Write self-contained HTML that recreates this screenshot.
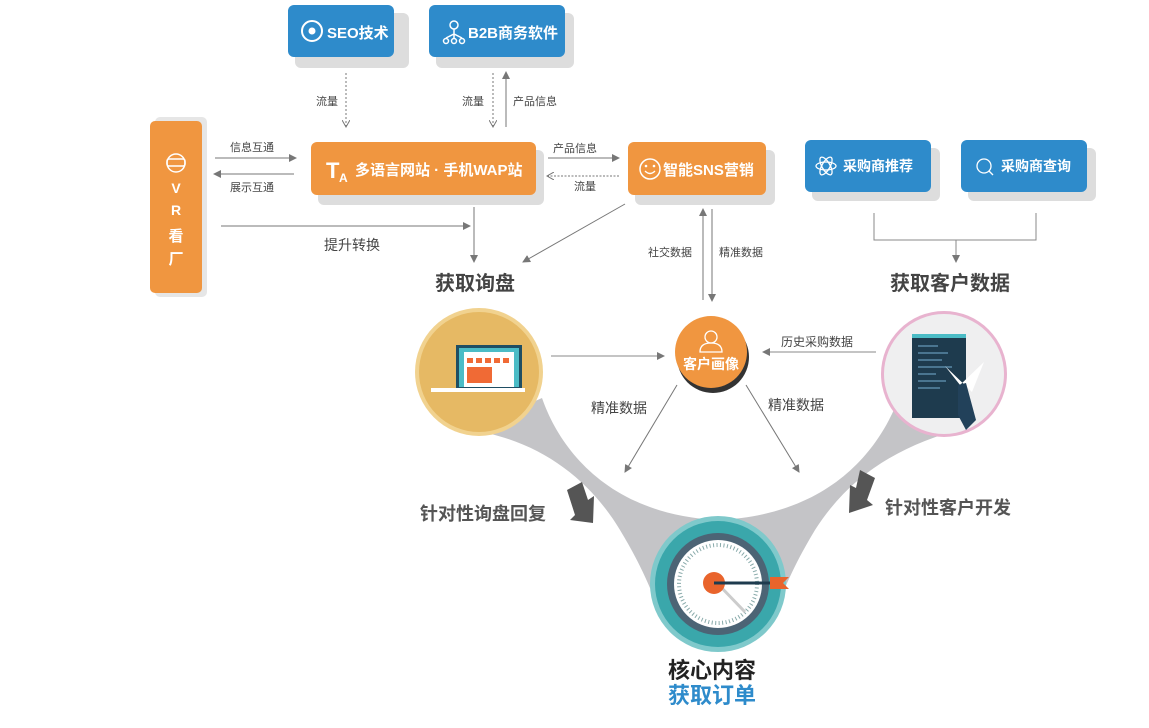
<!DOCTYPE html>
<html><head><meta charset="utf-8"><style>
body{margin:0;background:#fff;}
svg text{font-family:"Liberation Sans","Noto Sans CJK SC",sans-serif;}
</style></head><body>
<svg width="1149" height="723" viewBox="0 0 1149 723" xmlns="http://www.w3.org/2000/svg">
<defs>
<marker id="a" markerWidth="8" markerHeight="8" refX="7" refY="4" orient="auto" markerUnits="userSpaceOnUse"><path d="M0,0 L8,4 L0,8 z" fill="#777"/></marker>
<marker id="v" markerWidth="8" markerHeight="8" refX="7" refY="4" orient="auto" markerUnits="userSpaceOnUse"><path d="M0,0 L7,4 L0,8" fill="none" stroke="#777"/></marker>
</defs>
<!-- funnel -->
<path d="M470,430 C540,440 590,480 620,530 C635,555 645,575 655,600 L780,600 C790,575 800,555 815,530 C850,475 900,445 965,428 L900,395 C880,450 830,515 718,520 C610,515 560,450 542,398 Z" fill="#c4c4c7"/>

<!-- top blue boxes -->
<rect x="295" y="13" width="114" height="55" rx="6" fill="#ddd"/>
<rect x="288" y="5" width="106" height="52" rx="6" fill="#2e8bcb"/>
<circle cx="312" cy="31" r="10" fill="none" stroke="#fff" stroke-width="2"/><circle cx="312" cy="31" r="3.5" fill="#fff"/>
<text x="327" y="38" font-size="15" font-weight="bold" fill="#fff">SEO技术</text>
<rect x="436" y="13" width="138" height="55" rx="6" fill="#ddd"/>
<rect x="429" y="5" width="136" height="52" rx="6" fill="#2e8bcb"/>
<g stroke="#fff" stroke-width="1.5" fill="none"><circle cx="454" cy="25" r="4"/><path d="M454,29 V34 M446,38 L454,34 L462,38 M454,34 V38"/><circle cx="446" cy="41" r="2.5"/><circle cx="454" cy="41" r="2.5"/><circle cx="462" cy="41" r="2.5"/></g>
<text x="468" y="38" font-size="15" font-weight="bold" fill="#fff">B2B商务软件</text>

<!-- top arrows -->
<line x1="346" y1="73" x2="346" y2="127" stroke="#777" stroke-dasharray="2,2" marker-end="url(#v)"/>
<text x="316" y="105" font-size="11" fill="#444">流量</text>
<line x1="493" y1="73" x2="493" y2="127" stroke="#777" stroke-dasharray="2,2" marker-end="url(#v)"/>
<text x="462" y="105" font-size="11" fill="#444">流量</text>
<line x1="506" y1="127" x2="506" y2="72" stroke="#777" marker-end="url(#a)"/>
<text x="513" y="105" font-size="11" fill="#444">产品信息</text>

<!-- VR -->
<rect x="155" y="117" width="52" height="180" rx="5" fill="#e6e6e6"/>
<rect x="150" y="121" width="52" height="172" rx="5" fill="#f09640"/>
<g stroke="#fff" stroke-width="1.5" fill="none"><circle cx="176" cy="163" r="9"/><rect x="167" y="159" width="18" height="7" rx="2"/></g>
<text x="176" y="193" font-size="14" font-weight="bold" fill="#fff" text-anchor="middle">V</text>
<text x="176" y="215" font-size="14" font-weight="bold" fill="#fff" text-anchor="middle">R</text>
<text x="176" y="241" font-size="15" font-weight="bold" fill="#fff" text-anchor="middle">看</text>
<text x="176" y="264" font-size="15" font-weight="bold" fill="#fff" text-anchor="middle">厂</text>

<line x1="215" y1="158" x2="296" y2="158" stroke="#777" marker-end="url(#a)"/>
<text x="230" y="151" font-size="11" fill="#444">信息互通</text>
<line x1="294" y1="174" x2="214" y2="174" stroke="#777" marker-end="url(#a)"/>
<text x="230" y="191" font-size="11" fill="#444">展示互通</text>
<line x1="221" y1="226" x2="470" y2="226" stroke="#777" marker-end="url(#a)"/>
<text x="324" y="250" font-size="14" fill="#444">提升转换</text>

<!-- website -->
<rect x="318" y="150" width="226" height="55" rx="6" fill="#ddd"/>
<rect x="311" y="142" width="225" height="53" rx="6" fill="#f09640"/>
<text x="326" y="178" font-size="22" font-weight="bold" fill="#fff">T</text>
<text x="339" y="182" font-size="12" font-weight="bold" fill="#fff">A</text>
<text x="355" y="175" font-size="15" font-weight="bold" fill="#fff">多语言网站 · 手机WAP站</text>

<line x1="548" y1="158" x2="619" y2="158" stroke="#777" marker-end="url(#a)"/>
<text x="553" y="152" font-size="11" fill="#444">产品信息</text>
<line x1="619" y1="176" x2="547" y2="176" stroke="#777" stroke-dasharray="2,1.5" marker-end="url(#v)"/>
<text x="574" y="190" font-size="11" fill="#444">流量</text>

<!-- SNS -->
<rect x="635" y="150" width="140" height="55" rx="6" fill="#ddd"/>
<rect x="628" y="142" width="138" height="53" rx="6" fill="#f09640"/>
<circle cx="650" cy="169" r="10" fill="none" stroke="#fff" stroke-width="1.5"/>
<circle cx="646" cy="166" r="1.3" fill="#fff"/><circle cx="654" cy="166" r="1.3" fill="#fff"/>
<path d="M645,171 Q650,176 655,171" stroke="#fff" fill="none" stroke-width="1.3"/>
<text x="663" y="175" font-size="15" font-weight="bold" fill="#fff">智能SNS营销</text>

<!-- right blue -->
<rect x="812" y="148" width="128" height="53" rx="6" fill="#ddd"/>
<rect x="805" y="140" width="126" height="52" rx="6" fill="#2e8bcb"/>
<g stroke="#fff" stroke-width="1.3" fill="none"><ellipse cx="826" cy="166" rx="10" ry="4"/><ellipse cx="826" cy="166" rx="10" ry="4" transform="rotate(60 826 166)"/><ellipse cx="826" cy="166" rx="10" ry="4" transform="rotate(-60 826 166)"/></g>
<text x="843" y="171" font-size="14" font-weight="bold" fill="#fff">采购商推荐</text>
<rect x="968" y="148" width="128" height="53" rx="6" fill="#ddd"/>
<rect x="961" y="140" width="126" height="52" rx="6" fill="#2e8bcb"/>
<circle cx="984" cy="166" r="7" fill="none" stroke="#fff" stroke-width="1.3"/><line x1="989" y1="171" x2="993" y2="175" stroke="#fff" stroke-width="1.3"/>
<text x="1001" y="171" font-size="14" font-weight="bold" fill="#fff">采购商查询</text>
<path d="M874,213 V240 H1036 V213" fill="none" stroke="#888"/>
<line x1="956" y1="240" x2="956" y2="262" stroke="#888" marker-end="url(#a)"/>
<text x="950" y="290" font-size="20" font-weight="bold" fill="#444" text-anchor="middle">获取客户数据</text>

<!-- to 获取询盘 -->
<line x1="474" y1="207" x2="474" y2="262" stroke="#777" marker-end="url(#a)"/>
<line x1="625" y1="204" x2="523" y2="262" stroke="#777" marker-end="url(#a)"/>
<text x="475" y="290" font-size="20" font-weight="bold" fill="#444" text-anchor="middle">获取询盘</text>

<line x1="703" y1="300" x2="703" y2="209" stroke="#777" marker-end="url(#a)"/>
<line x1="712" y1="209" x2="712" y2="301" stroke="#777" marker-end="url(#a)"/>
<text x="648" y="256" font-size="11" fill="#444">社交数据</text>
<text x="719" y="256" font-size="11" fill="#444">精准数据</text>

<!-- left circle -->
<circle cx="479" cy="372" r="64" fill="#f1d28f"/>
<circle cx="479" cy="372" r="60" fill="#e6b964"/>
<rect x="456" y="345" width="66" height="45" fill="#1f4e63"/>
<rect x="459" y="348" width="60" height="39" fill="#4bbcc6"/>
<rect x="464" y="352" width="50" height="35" fill="#fff"/>
<g fill="#f06a35"><rect x="467" y="358" width="6" height="5"/><rect x="476" y="358" width="6" height="5"/><rect x="485" y="358" width="6" height="5"/><rect x="494" y="358" width="6" height="5"/><rect x="503" y="358" width="6" height="5"/><rect x="467" y="367" width="25" height="16"/></g>
<rect x="431" y="388" width="94" height="4" fill="#fff"/>
<line x1="551" y1="356" x2="664" y2="356" stroke="#888" marker-end="url(#a)"/>

<!-- center orange -->
<circle cx="713" cy="357" r="36" fill="#333"/>
<circle cx="711" cy="352" r="36" fill="#f09640"/>
<circle cx="711" cy="337" r="6" fill="none" stroke="#fff" stroke-width="1.3"/>
<path d="M700,352 Q700,343 711,343 Q722,343 722,352 Z" fill="none" stroke="#fff" stroke-width="1.3"/>
<text x="711" y="369" font-size="14" font-weight="bold" fill="#fff" text-anchor="middle">客户画像</text>

<line x1="876" y1="352" x2="763" y2="352" stroke="#888" marker-end="url(#a)"/>
<text x="781" y="346" font-size="12" fill="#444">历史采购数据</text>
<line x1="677" y1="385" x2="625" y2="472" stroke="#777" marker-end="url(#a)"/>
<line x1="746" y1="385" x2="799" y2="472" stroke="#777" marker-end="url(#a)"/>
<text x="591" y="413" font-size="14" fill="#444">精准数据</text>
<text x="768" y="410" font-size="14" fill="#444">精准数据</text>

<!-- right circle -->
<circle cx="944" cy="374" r="63" fill="#e8b3cf"/>
<circle cx="944" cy="374" r="60" fill="#efeff0"/>
<rect x="912" y="334" width="54" height="84" fill="#1e3b4e"/>
<rect x="912" y="334" width="54" height="4" fill="#4bbcc6"/>
<g fill="#4a7590"><rect x="918" y="345" width="20" height="2"/><rect x="918" y="352" width="30" height="2"/><rect x="918" y="359" width="24" height="2"/><rect x="918" y="366" width="34" height="2"/><rect x="918" y="373" width="18" height="2"/><rect x="918" y="380" width="28" height="2"/><rect x="918" y="387" width="22" height="2"/></g>
<path d="M945,366 L960,385 L984,362 L972,392 Z" fill="#fff"/>
<path d="M958,385 L966,383 L976,420 L966,430 L958,415 Z" fill="#22415a"/>

<!-- arrows big -->
<path d="M567,490 L582,482 L588,500 L594,496 L593,523 L570,520 L575,515 Z" fill="#555"/>
<path d="M875,478 L860,470 L856,488 L850,485 L849,513 L873,505 L867,500 Z" fill="#555"/>
<text x="420" y="520" font-size="18" font-weight="bold" fill="#555">针对性询盘回复</text>
<text x="885" y="514" font-size="18" font-weight="bold" fill="#555">针对性客户开发</text>

<!-- target -->
<circle cx="718" cy="584" r="68" fill="#7fc9cb"/>
<circle cx="718" cy="584" r="63" fill="#3aa7ab"/>
<circle cx="718" cy="584" r="51" fill="#4c6475"/>
<circle cx="718" cy="584" r="44" fill="#fff"/>
<circle cx="718" cy="584" r="39" fill="none" stroke="#8aa" stroke-width="4" stroke-dasharray="1,2.5"/>
<line x1="718" y1="584" x2="745" y2="612" stroke="#ccc" stroke-width="3"/>
<circle cx="714" cy="583" r="11" fill="#e9642c"/>
<line x1="714" y1="583" x2="778" y2="583" stroke="#1e3b4e" stroke-width="3"/>
<path d="M770,577 L789,577 L783,583 L789,589 L770,589 Z" fill="#e9642c"/>

<text x="712" y="678" font-size="22" font-weight="bold" fill="#222" text-anchor="middle">核心内容</text>
<text x="712" y="703" font-size="22" font-weight="bold" fill="#2e8bcb" text-anchor="middle">获取订单</text>
</svg>
</body></html>
